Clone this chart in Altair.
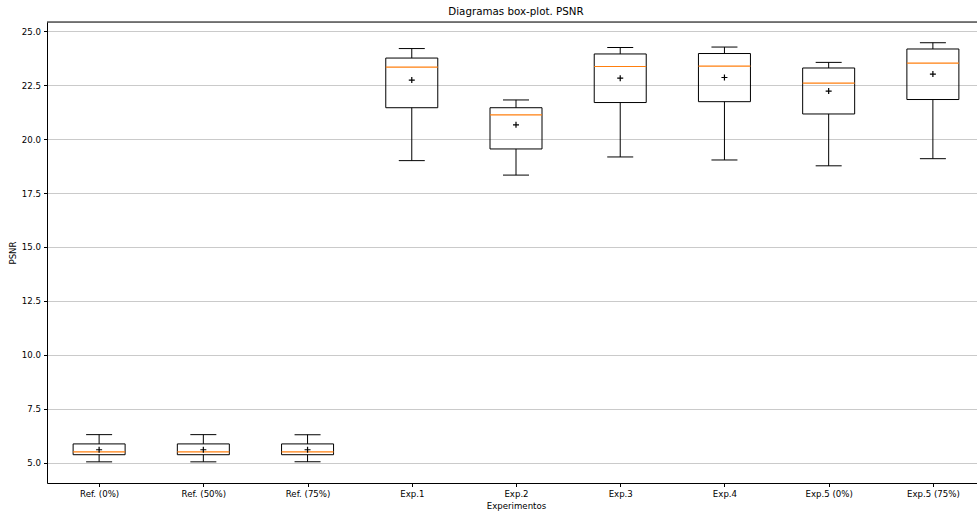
import altair as alt
import pandas as pd

categories = ["Ref. (0%)", "Ref. (50%)", "Ref. (75%)", "Exp.1", "Exp.2",
              "Exp.3", "Exp.4", "Exp.5 (0%)", "Exp.5 (75%)"]
whisker_low = [5.05, 5.05, 5.05, 19.00, 18.33, 19.17, 19.03, 18.76, 19.09]
q1 = [5.38, 5.38, 5.38, 21.45, 19.54, 21.69, 21.73, 21.16, 21.83]
median = [5.51, 5.51, 5.51, 23.33, 21.12, 23.36, 23.38, 22.59, 23.52]
q3 = [5.88, 5.88, 5.88, 23.75, 21.45, 23.94, 23.96, 23.29, 24.17]
whisker_high = [6.31, 6.31, 6.31, 24.19, 21.81, 24.24, 24.26, 23.55, 24.46]
mean = [5.61, 5.61, 5.61, 22.73, 20.66, 22.82, 22.85, 22.22, 23.01]
y_ticks = [5.0, 7.5, 10.0, 12.5, 15.0, 17.5, 20.0, 22.5, 25.0]

df = pd.DataFrame({
    "exp": categories, "low": whisker_low, "q1": q1, "median": median,
    "q3": q3, "high": whisker_high, "mean": mean,
})

FONT = "DejaVu Sans"
W, H = 930, 461
FULL_W = 938  # the original axes run past the right edge of the window

x_scale = alt.Scale(type="point", padding=0.5, range=[0, FULL_W])
x_enc = alt.X("exp:N", sort=categories, title="Experimentos", scale=x_scale,
              axis=alt.Axis(labelAngle=0, domain=True, domainColor="black",
                            domainWidth=1, ticks=True, tickSize=3.5,
                            tickColor="black", labelColor="black", labelFontSize=8.6,
                            labelFont=FONT, labelPadding=3, titleFont=FONT,
                            titleFontSize=8.6, titleFontWeight="normal",
                            titleColor="black", titlePadding=3, grid=False,
                            titleX=FULL_W / 2))
y_scale = alt.Scale(domain=[4.07, 25.42], nice=False, zero=False)
y_axis = alt.Axis(values=y_ticks, format=".1f", domain=True, domainColor="black",
                  domainWidth=1, tickSize=3.5,
                  tickColor="black", labelColor="black", labelFontSize=8.6,
                  labelFont=FONT, labelPadding=3, grid=True, gridColor="#c4c4c4",
                  gridWidth=0.9, titleFont=FONT, titleFontSize=8.6,
                  titleFontWeight="normal", titleColor="black", titlePadding=4)

base = alt.Chart(df)
xs = alt.X("exp:N", sort=categories, scale=x_scale)

box = base.mark_bar(size=52, fillOpacity=0, stroke="black", strokeWidth=1).encode(
    x=x_enc,
    y=alt.Y("q1:Q", scale=y_scale, axis=y_axis, title="PSNR"),
    y2="q3:Q",
)
whisk_lo = base.mark_rule(color="black", strokeWidth=1).encode(
    x=xs, y="low:Q", y2="q1:Q")
whisk_hi = base.mark_rule(color="black", strokeWidth=1).encode(
    x=xs, y="q3:Q", y2="high:Q")
cap_lo = base.mark_tick(size=26, thickness=1, color="black", opacity=1).encode(
    x=xs, y="low:Q")
cap_hi = base.mark_tick(size=26, thickness=1, color="black", opacity=1).encode(
    x=xs, y="high:Q")
med = base.mark_tick(size=52, thickness=1.2, color="#ff7f0e", opacity=1).encode(
    x=xs, y="median:Q")
mn = base.mark_point(shape="M -1 0 L 1 0 M 0 -1 L 0 1", filled=False,
                     stroke="black", strokeWidth=1.2, size=36, opacity=1).encode(
    x=xs, y="mean:Q")
top_spine = alt.Chart(pd.DataFrame({"a": [0]})).mark_rule(
    color="black", strokeWidth=1).encode(
    x=alt.value(0), x2=alt.value(FULL_W), y=alt.value(0))

chart = alt.layer(box, whisk_lo, whisk_hi, cap_lo, cap_hi, med, mn, top_spine).properties(
    width=W, height=H,
    title=alt.Title("Diagramas box-plot. PSNR", font=FONT, fontSize=10.3,
                    fontWeight="normal", color="black", offset=4, dx=4),
    autosize=alt.AutoSizeParams(type="none"),
    padding={"left": 47, "top": 22, "right": 0, "bottom": 32},
).configure_view(stroke=None).configure(background="white")

chart.save("out.html", embed_options={"renderer": "svg", "actions": False})
